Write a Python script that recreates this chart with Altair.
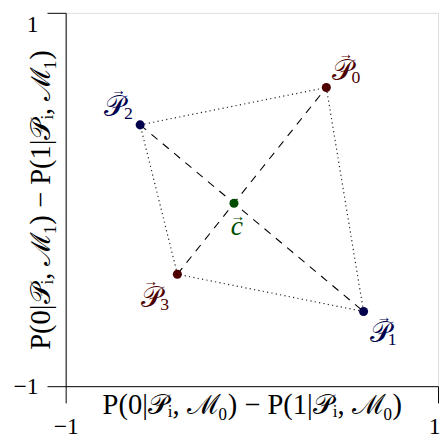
import altair as alt
import pandas as pd

# Data
names = ["P0", "P1", "P2", "P3", "c"]
main_labels = ["𝒫", "𝒫", "𝒫", "𝒫", "c"]
sub_labels = ["0", "1", "2", "3", ""]
xs = [0.4, 0.6, -0.6, -0.4, -0.096]
ys = [0.6, -0.6, 0.4, -0.4, -0.02]
colors = ["#4d0000", "#00004d", "#00004d", "#4d0000", "#004d00"]

# quadrilateral (dotted) and diagonals (dashed)
dotted_edges = [("P2", "P0"), ("P0", "P1"), ("P1", "P3"), ("P3", "P2")]
dashed_edges = [("P2", "P1"), ("P3", "P0")]

pts = pd.DataFrame({"name": names, "main": main_labels, "sub": sub_labels,
                    "x": xs, "y": ys, "color": colors})
pts["arrow"] = "→"
lookup = {n: (x, y) for n, x, y in zip(names, xs, ys)}

def seg_df(edges):
    rows = []
    for i, (a, b) in enumerate(edges):
        rows.append({"seg": i, "o": 0, "x": lookup[a][0], "y": lookup[a][1]})
        rows.append({"seg": i, "o": 1, "x": lookup[b][0], "y": lookup[b][1]})
    return pd.DataFrame(rows)

FONT = "Liberation Serif"

xscale = alt.Scale(domain=[-1, 1], nice=False, zero=False)
yscale = alt.Scale(domain=[-1, 1], nice=False, zero=False)

xaxis = alt.Axis(
    values=[-1, 1], title="P(0|𝒫ᵢ, ℳ₀) − P(1|𝒫ᵢ, ℳ₀)",
    grid=False, domainColor="black", domainWidth=1, tickColor="black", tickWidth=1,
    tickSize=17, labelPadding=31, labelBaseline="alphabetic", labelFont=FONT,
    labelFontSize=24, labelColor="black", labelFlush=False,
    labelAlign=alt.condition("datum.value > 0", alt.value("right"), alt.value("center")),
    labelOffset=alt.condition("datum.value > 0", alt.value(2), alt.value(0)),
    titleFont=FONT, titleFontSize=29, titleFontWeight="normal", titleColor="black",
    titleBaseline="alphabetic", titleY=28, labelExpr="datum.value < 0 ? '−1' : '1'",
)
yaxis = alt.Axis(
    values=[-1, 1], title="P(0|𝒫ᵢ, ℳ₁) − P(1|𝒫ᵢ, ℳ₁)",
    grid=False, domainColor="black", domainWidth=1, tickColor="black", tickWidth=1,
    tickSize=19, labelPadding=9, labelFont=FONT, labelFontSize=24, labelColor="black",
    labelFlush=False,
    labelBaseline=alt.condition("datum.value > 0", alt.value("top"), alt.value("middle")),
    titleFont=FONT, titleFontSize=29, titleFontWeight="normal", titleColor="black",
    titleBaseline="alphabetic", titleX=-16, titleY=190, titleAngle=-90,
    labelExpr="datum.value < 0 ? '−1' : '1'",
)

base_x = alt.X("x:Q", scale=xscale, axis=xaxis)
base_y = alt.Y("y:Q", scale=yscale, axis=yaxis)

dotted = alt.Chart(seg_df(dotted_edges)).mark_line(
    color="#222222", strokeWidth=1.2, strokeDash=[1.2, 3.3]
).encode(x=base_x, y=base_y, detail="seg:N", order="o:Q")

dashed = alt.Chart(seg_df(dashed_edges)).mark_line(
    color="black", strokeWidth=1.1, strokeDash=[8, 7]
).encode(x="x:Q", y="y:Q", detail="seg:N", order="o:Q")

dots = alt.Chart(pts).mark_circle(size=85, opacity=1).encode(
    x="x:Q", y="y:Q", color=alt.Color("color:N", scale=None)
)

# pixel offsets of label parts (main glyph, subscript, arrow) from each point
main_off = {"P0": (16, -17), "P1": (17, 22), "P2": (-26, -18), "P3": (-26, 24), "c": (3, 24)}
sub_off = {"P0": (30, -10), "P1": (29, 29), "P2": (-12, -11), "P3": (-13, 31), "c": (0, 0)}
arrow_off = {"P0": (20, -34), "P1": (21, 6), "P2": (-22, -35), "P3": (-27, 7), "c": (4, 13)}

text_layers = []
for n in names:
    f = alt.datum.name == n
    mx, my = main_off[n]
    is_c = n == "c"
    text_layers.append(
        alt.Chart(pts).transform_filter(f).mark_text(
            font=FONT, fontSize=28 if is_c else 30, fontStyle="italic" if is_c else "normal",
            dx=mx, dy=my, baseline="middle", align="center"
        ).encode(x="x:Q", y="y:Q", text="main:N", color=alt.Color("color:N", scale=None))
    )
    if not is_c:
        sx, sy = sub_off[n]
        text_layers.append(
            alt.Chart(pts).transform_filter(f).mark_text(
                font=FONT, fontSize=18, dx=sx, dy=sy, baseline="middle", align="center"
            ).encode(x="x:Q", y="y:Q", text="sub:N", color=alt.Color("color:N", scale=None))
        )
    ax, ay = arrow_off[n]
    text_layers.append(
        alt.Chart(pts).transform_filter(f).mark_text(
            font=FONT, fontSize=15, dx=ax, dy=ay, baseline="middle", align="center"
        ).encode(x="x:Q", y="y:Q", text="arrow:N", color=alt.Color("color:N", scale=None))
    )

chart = alt.layer(dotted, dashed, dots, *text_layers).properties(
    width=379, height=380,
    autosize=alt.AutoSizeParams(type="none"),
    padding={"left": 58.7, "top": 1, "right": 2, "bottom": 60},
).configure_view(stroke=None).configure(background="white")

chart.save("out.html", embed_options={"renderer": "svg", "actions": False})
